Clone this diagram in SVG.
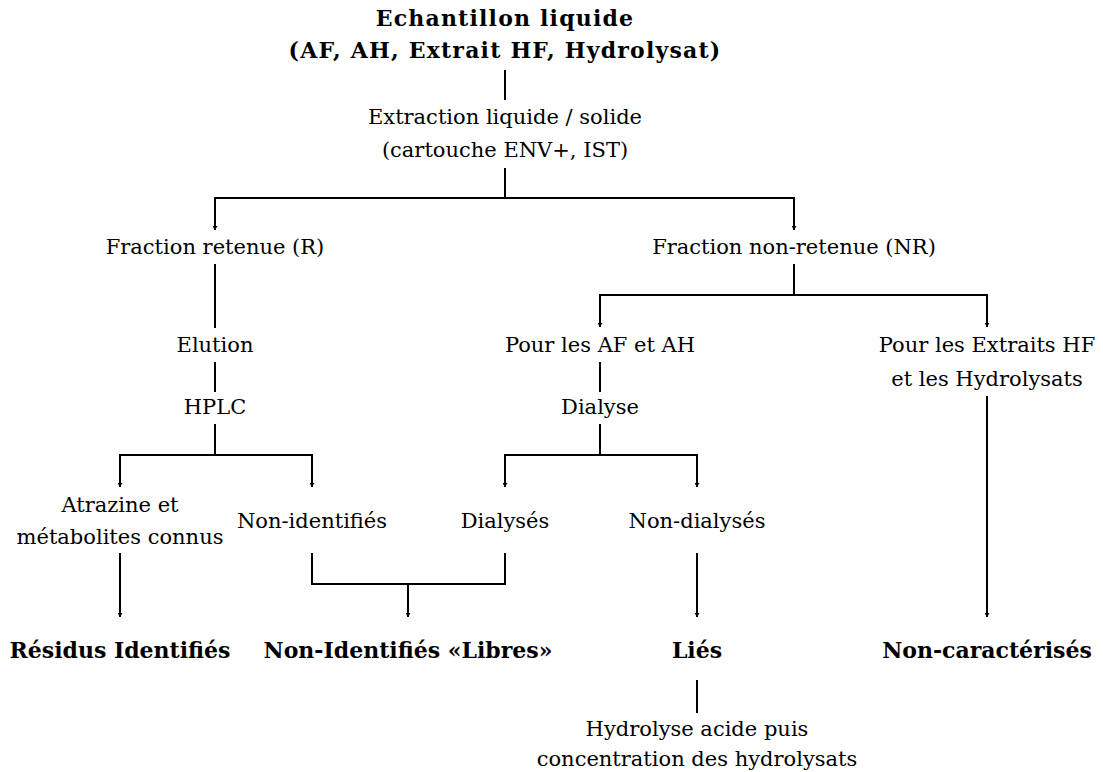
<svg xmlns="http://www.w3.org/2000/svg" width="1103" height="772" viewBox="0 0 1103 772">
<style>
text{font-family:"DejaVu Serif","Liberation Serif",serif;font-size:21px;fill:#000;text-anchor:middle}
.b{font-weight:bold;font-size:22px}
.t{letter-spacing:1.2px}
.c{stroke:#000;stroke-width:2;fill:none}
</style>
<defs>
<marker id="a" viewBox="0 0 8 10" refX="8" refY="5" markerWidth="4" markerHeight="5" orient="auto" markerUnits="userSpaceOnUse">
<path d="M0,0L8,5L0,10z" fill="#000"/>
</marker>
</defs>
<rect width="1103" height="772" fill="#fff"/>
<g id="connectors">
<path class="c" d="M505,70V100"/>
<path class="c" d="M505,168V198M215,198H794"/>
<path class="c" d="M215,197V230" marker-end="url(#a)"/>
<path class="c" d="M794,197V230" marker-end="url(#a)"/>
<path class="c" d="M215,264V328"/>
<path class="c" d="M215,362V392"/>
<path class="c" d="M215,424V455M120,455H312"/>
<path class="c" d="M120,454V487" marker-end="url(#a)"/>
<path class="c" d="M312,454V487" marker-end="url(#a)"/>
<path class="c" d="M794,264V295M600,295H987"/>
<path class="c" d="M600,294V327" marker-end="url(#a)"/>
<path class="c" d="M987,294V327" marker-end="url(#a)"/>
<path class="c" d="M600,362V392"/>
<path class="c" d="M600,424V455M505,455H697"/>
<path class="c" d="M505,454V487" marker-end="url(#a)"/>
<path class="c" d="M697,454V487" marker-end="url(#a)"/>
<path class="c" d="M120,553V617" marker-end="url(#a)"/>
<path class="c" d="M312,553V584H505V553"/>
<path class="c" d="M408,583V617" marker-end="url(#a)"/>
<path class="c" d="M697,553V617" marker-end="url(#a)"/>
<path class="c" d="M987,396V617" marker-end="url(#a)"/>
<path class="c" d="M697,680V713"/>
</g>
<g id="n-echantillon"><text class="b t" x="505" y="26">Echantillon liquide</text><text class="b t" x="505" y="58">(AF, AH, Extrait HF, Hydrolysat)</text></g>
<g id="n-extraction"><text x="505" y="124">Extraction liquide / solide</text><text x="505" y="157">(cartouche ENV+, IST)</text></g>
<g id="n-fr"><text x="215" y="254">Fraction retenue (R)</text></g>
<g id="n-fnr"><text x="794" y="254">Fraction non-retenue (NR)</text></g>
<g id="n-elution"><text x="215" y="352">Elution</text></g>
<g id="n-hplc"><text x="215" y="414">HPLC</text></g>
<g id="n-afah"><text x="600" y="352">Pour les AF et AH</text></g>
<g id="n-exhf"><text x="987" y="352">Pour les Extraits HF</text><text x="987" y="386">et les Hydrolysats</text></g>
<g id="n-dialyse"><text x="600" y="414">Dialyse</text></g>
<g id="n-atrazine"><text x="120" y="512">Atrazine et</text><text x="120" y="544">métabolites connus</text></g>
<g id="n-nonid"><text x="312" y="528">Non-identifiés</text></g>
<g id="n-dialyses"><text x="505" y="528">Dialysés</text></g>
<g id="n-nondialyses"><text x="697" y="528">Non-dialysés</text></g>
<g id="n-residus"><text class="b" x="120" y="658">Résidus Identifiés</text></g>
<g id="n-libres"><text class="b" x="408" y="658">Non-Identifiés «Libres»</text></g>
<g id="n-lies"><text class="b" x="697" y="658">Liés</text></g>
<g id="n-noncar"><text class="b" x="987" y="658">Non-caractérisés</text></g>
<g id="n-hydrolyse"><text x="697" y="736">Hydrolyse acide puis</text><text x="697" y="766">concentration des hydrolysats</text></g>
</svg>
